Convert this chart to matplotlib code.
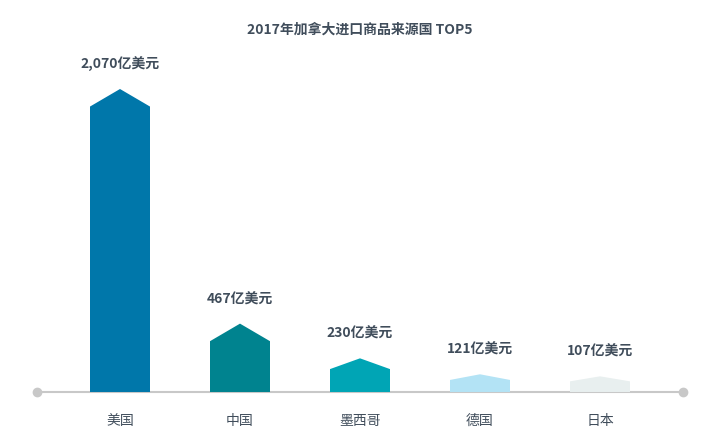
import matplotlib.pyplot as plt
from matplotlib.patches import Polygon

plt.rcParams['font.family'] = ['Noto Sans CJK SC', 'DejaVu Sans']

# data
countries = ['美国', '中国', '墨西哥', '德国', '日本']
values = [2070, 467, 230, 121, 107]
value_labels = ['2,070亿美元', '467亿美元', '230亿美元', '121亿美元', '107亿美元']
colors = ['#0077AA', '#00838F', '#00A5B5', '#B3E3F5', '#E8EFEF']

text_color = '#404D5B'
line_color = '#C8C8C8'

fig = plt.figure(figsize=(7.2, 4.46), dpi=100)
ax = fig.add_axes([0, 0, 1, 1])
ax.set_xlim(-1, 5)
ax.set_ylim(-369, 2678)
ax.axis('off')

half_w = 0.25
for i, (v, c) in enumerate(zip(values, colors)):
    cap = min(0.32 * v, 120)
    pts = [(i - half_w, 0), (i - half_w, v - cap), (i, v),
           (i + half_w, v - cap), (i + half_w, 0)]
    ax.add_patch(Polygon(pts, closed=True, facecolor=c, edgecolor='none', zorder=2))
    ax.annotate(value_labels[i], (i, v), xytext=(0, 17.5), textcoords='offset points',
                ha='center', va='center', fontsize=10, fontweight='bold', color=text_color)
    ax.annotate(countries[i], (i, 0), xytext=(0, -21), textcoords='offset points',
                ha='center', va='center', fontsize=10, color=text_color)

# baseline with end dots
ax.plot([-0.69, 4.69], [0, 0], color=line_color, lw=1.5, zorder=1)
ax.plot([-0.69, 4.69], [0, 0], 'o', color=line_color, ms=6, zorder=1)

fig.text(0.5, 0.933, '2017年加拿大进口商品来源国 TOP5', ha='center', va='center',
         fontsize=10, fontweight='bold', color=text_color)

fig.savefig('out.png', dpi=100)
